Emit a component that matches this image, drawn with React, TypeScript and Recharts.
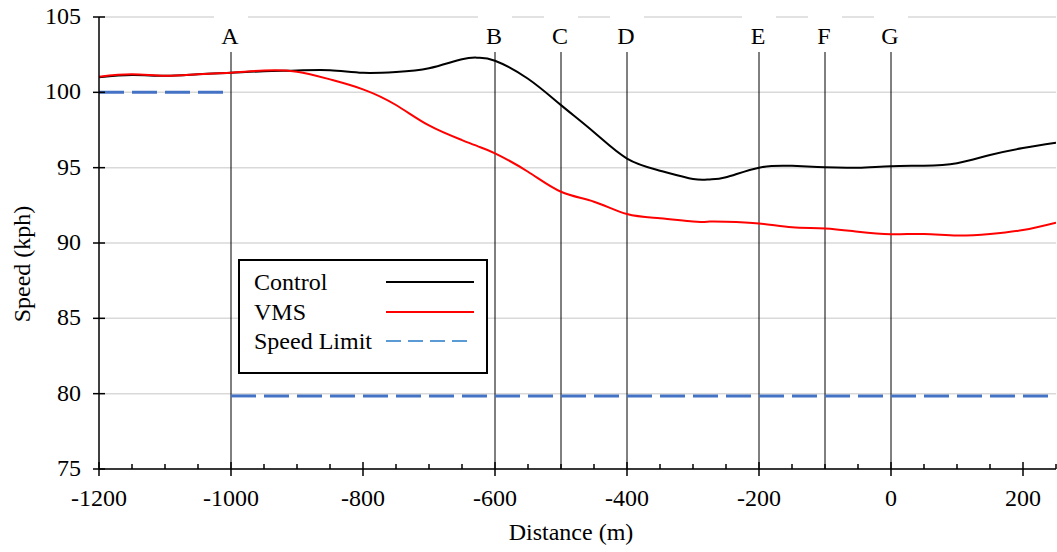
import React from "react";
import { LineChart, Line, XAxis, YAxis, CartesianGrid, ReferenceLine, Legend } from "recharts";

// distance from the sign (m)
const distance = [-1200, -1150, -1100, -1050, -1000, -950, -900, -850, -800, -750, -700, -650, -625, -600, -550, -500, -450, -400, -350, -300, -275, -250, -200, -150, -100, -50, 0, 50, 100, 150, 200, 250];
// mean speeds (kph)
const control = [101.0, 101.15, 101.1, 101.2, 101.3, 101.4, 101.45, 101.47, 101.3, 101.35, 101.6, 102.2, 102.3, 102.1, 100.9, 99.15, 97.35, 95.6, 94.8, 94.25, 94.22, 94.36, 95.0, 95.12, 95.02, 95.0, 95.1, 95.13, 95.3, 95.84, 96.3, 96.65];
const vms = [101.04, 101.2, 101.1, 101.2, 101.3, 101.45, 101.37, 100.86, 100.2, 99.16, 97.8, 96.83, 96.4, 95.95, 94.73, 93.4, 92.74, 91.92, 91.64, 91.42, 91.42, 91.41, 91.3, 91.05, 90.97, 90.75, 90.58, 90.6, 90.5, 90.6, 90.86, 91.35];

// posted speed limit, before and after point A
const limitBeforeX = [-1200, -1000];
const limitBefore = [100, 100];
const limitAfterX = [-1000, 250];
const limitAfter = [79.85, 79.85];

const markerLabels = ["A", "B", "C", "D", "E", "F", "G"];
const markerX = [-1000, -600, -500, -400, -200, -100, 0];

const xTicks = [-1200, -1150, -1100, -1050, -1000, -950, -900, -850, -800, -750, -700, -650, -600, -550, -500, -450, -400, -350, -300, -250, -200, -150, -100, -50, 0, 50, 100, 150, 200, 250];
const xLabelTicks = [-1200, -1000, -800, -600, -400, -200, 0, 200];
const yTicks = [75, 80, 85, 90, 95, 100, 105];

const FONT = "'Liberation Serif', 'Times New Roman', serif";
const PLOT_LEFT = 99;
const PLOT_BOTTOM = 469;

const rows = distance.map((x, i) => ({ x, control: control[i], vms: vms[i] }));
const limitBeforeData = limitBeforeX.map((x, i) => ({ x, limit: limitBefore[i] }));
const limitAfterData = limitAfterX.map((x, i) => ({ x, limit: limitAfter[i] }));

const legendItems = [
  { name: "Control", color: "#000000", dash: undefined as string | undefined, width: 2 },
  { name: "VMS", color: "#ff0000", dash: undefined as string | undefined, width: 2 },
  { name: "Speed Limit", color: "#5b9bd5", dash: "15 7", width: 2 },
];

function XTick(props: any) {
  const { x, payload } = props;
  const major = xLabelTicks.includes(payload.value);
  return (
    <g>
      <line x1={x} x2={x} y1={major ? PLOT_BOTTOM - 7 : PLOT_BOTTOM - 5} y2={major ? PLOT_BOTTOM + 7 : PLOT_BOTTOM} stroke="#000" strokeWidth={1.5} />
      {major && (
        <text x={x} y={506} textAnchor="middle" fontSize={24} fontFamily={FONT} fill="#000">{payload.value}</text>
      )}
    </g>
  );
}

function YTick(props: any) {
  const { y, payload } = props;
  return (
    <g>
      <line x1={PLOT_LEFT - 6} x2={PLOT_LEFT + 6} y1={y} y2={y} stroke="#000" strokeWidth={1.5} />
      <text x={81} y={y + 7} textAnchor="end" fontSize={24} fontFamily={FONT} fill="#000">{payload.value}</text>
    </g>
  );
}

function MarkerLabel({ viewBox, text }: any) {
  const x = viewBox?.x ?? 0;
  return (
    <g>
      <rect x={x - 17} y={4} width={34} height={48} fill="#fff" />
      <text x={x - 1} y={44} textAnchor="middle" fontSize={24} fontFamily={FONT} fill="#000">{text}</text>
    </g>
  );
}

function LegendBox() {
  return (
    <div style={{ width: 250, height: 115, border: "2px solid #000", background: "#fff", boxSizing: "border-box", position: "relative", fontFamily: FONT, fontSize: 24, color: "#000" }}>
      {legendItems.map((item, i) => (
        <div key={item.name} style={{ position: "absolute", left: 14, top: 6 + i * 29.5, height: 30, width: 230, display: "flex", alignItems: "center" }}>
          <span style={{ width: 131, lineHeight: "30px", whiteSpace: "nowrap" }}>{item.name}</span>
          <svg width={90} height={10}>
            <line x1={1} x2={89} y1={5} y2={5} stroke={item.color} strokeWidth={item.width} strokeDasharray={item.dash} />
          </svg>
        </div>
      ))}
    </div>
  );
}

export default function App() {
  return (
    <div style={{ position: "absolute", left: 0, top: 0, width: 1057, height: 552, background: "#fff" }}>
      <LineChart width={1057} height={552} data={rows} margin={{ top: 17, right: 1, left: 0, bottom: 0 }}>
        <CartesianGrid horizontal vertical={false} stroke="#d9d9d9" strokeWidth={1.5} />
        <XAxis
          type="number"
          dataKey="x"
          domain={[-1200, 250]}
          ticks={xTicks}
          interval={0}
          allowDataOverflow
          height={83}
          axisLine={{ stroke: "#000", strokeWidth: 1.5 }}
          tickLine={false}
          tick={<XTick />}
          label={{
            content: () => (
              <text x={571} y={540} textAnchor="middle" fontSize={24} fontFamily={FONT} fill="#000">
                Distance (m)
              </text>
            ),
          }}
        />
        <YAxis
          type="number"
          domain={[75, 105]}
          ticks={yTicks}
          interval={0}
          allowDataOverflow
          width={PLOT_LEFT}
          axisLine={{ stroke: "#000", strokeWidth: 1.5 }}
          tickLine={false}
          tick={<YTick />}
          label={{
            content: () => (
              <text x={22} y={264} transform="rotate(-90, 22, 264)" textAnchor="middle" dominantBaseline="central" fontSize={24} fontFamily={FONT} fill="#000">
                Speed (kph)
              </text>
            ),
          }}
        />
        {markerX.map((mx, i) => (
          <ReferenceLine key={markerLabels[i]} x={mx} stroke="#000" strokeWidth={1} label={{ content: (p: any) => <MarkerLabel {...p} text={markerLabels[i]} /> }} />
        ))}
        <Line data={limitBeforeData} dataKey="limit" type="linear" stroke="#4472c4" strokeWidth={3} strokeDasharray="25 8" dot={false} activeDot={false} isAnimationActive={false} />
        <Line data={limitAfterData} dataKey="limit" type="linear" stroke="#4472c4" strokeWidth={3} strokeDasharray="25 8" dot={false} activeDot={false} isAnimationActive={false} />
        <Line dataKey="control" type="natural" stroke="#000" strokeWidth={2} dot={false} activeDot={false} isAnimationActive={false} />
        <Line dataKey="vms" type="natural" stroke="#ff0000" strokeWidth={2} dot={false} activeDot={false} isAnimationActive={false} />
        <Legend
          layout="vertical"
          align="center"
          verticalAlign="middle"
          content={() => <LegendBox />}
          wrapperStyle={{ left: 238, top: 259, width: 250, height: 115 }}
        />
      </LineChart>
    </div>
  );
}
